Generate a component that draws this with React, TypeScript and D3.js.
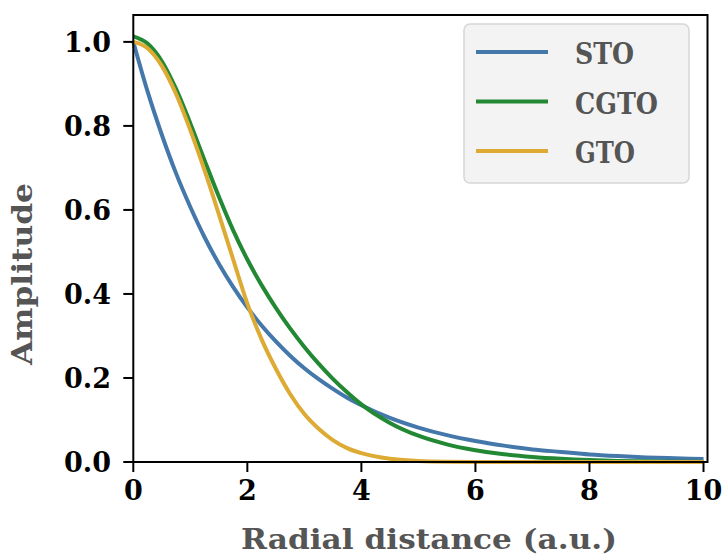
import React from "react";
import * as d3 from "d3";

const radius = [0, 0.25, 0.5, 0.75, 1, 1.25, 1.5, 1.75, 2, 2.25, 2.5, 2.75, 3, 3.25, 3.5, 3.75, 4, 4.5, 5, 5.5, 6, 6.5, 7, 7.5, 8, 8.5, 9, 9.5, 10];
const sto = [1.0, 0.882, 0.779, 0.687, 0.607, 0.535, 0.472, 0.417, 0.368, 0.325, 0.287, 0.253, 0.223, 0.197, 0.174, 0.153, 0.135, 0.105, 0.082, 0.064, 0.05, 0.039, 0.03, 0.024, 0.018, 0.014, 0.011, 0.009, 0.007];
const cgto = [1.013, 0.996, 0.954, 0.888, 0.806, 0.718, 0.632, 0.552, 0.482, 0.421, 0.367, 0.318, 0.274, 0.234, 0.198, 0.166, 0.137, 0.093, 0.0625, 0.042, 0.028, 0.0182, 0.0118, 0.0075, 0.0045, 0.0026, 0.0015, 0.0008, 0.0004];
const gto = [1.0, 0.985, 0.943, 0.876, 0.79, 0.694, 0.59, 0.483, 0.377, 0.292, 0.222, 0.162, 0.114, 0.079, 0.052, 0.033, 0.021, 0.0075, 0.0025, 0.0007, 0.0002, 0, 0, 0, 0, 0, 0, 0, 0];

const seriesNames = ["STO", "CGTO", "GTO"];
const seriesColors = ["#4477AA", "#228833", "#DDAA33"];
const xTicks = [0, 2, 4, 6, 8, 10];
const yTicks = [0, 0.2, 0.4, 0.6, 0.8, 1.0];

const W = 723;
const H = 559;
const left = 133.3;
const right = 707.5;
const top = 15;
const bottom = 462;

export default function App() {
  const x = d3.scaleLinear().domain([0, 10.07]).range([left, right]);
  const y = d3.scaleLinear().domain([0, 1.064]).range([bottom, top]);
  const line = d3
    .line<number>()
    .x((_, i) => x(radius[i]))
    .y((d) => y(d))
    .curve(d3.curveMonotoneX);
  const data = [sto, cgto, gto];
  const tickFont = "'DejaVu Serif', serif";
  const labelFont = "'DejaVu Serif', serif";
  const legendTextLen = [59, 83, 60];
  return (
    <div style={{ position: "fixed", left: 0, top: 0 }}>
      <svg width={W} height={H} style={{ display: "block", background: "#fff" }}>
        {data.map((d, i) => (
          <path key={i} d={line(d) || ""} fill="none" stroke={seriesColors[i]} strokeWidth={4} strokeLinejoin="round" />
        ))}
        <rect x={left} y={top} width={right - left} height={bottom - top} fill="none" stroke="#000" strokeWidth={2} />
        {xTicks.map((t) => (
          <g key={"x" + t}>
            <line x1={x(t)} x2={x(t)} y1={bottom} y2={bottom + 10} stroke="#000" strokeWidth={2} />
            <text x={x(t)} y={500} textAnchor="middle" fontFamily={tickFont} fontWeight="bold" fontSize={27} fill="#000">
              {t}
            </text>
          </g>
        ))}
        {yTicks.map((t) => (
          <g key={"y" + t}>
            <line x1={left - 10} x2={left} y1={y(t)} y2={y(t)} stroke="#000" strokeWidth={2} />
            <text x={111} y={y(t)} dy="0.365em" textAnchor="end" fontFamily={tickFont} fontWeight="bold" fontSize={27} fill="#000">
              {t.toFixed(1)}
            </text>
          </g>
        ))}
        <text x={241} y={549} textLength={376} lengthAdjust="spacingAndGlyphs" fontFamily={labelFont} fontWeight="bold" fontSize={28} fill="#555">
          Radial distance (a.u.)
        </text>
        <text
          transform="translate(32,274) rotate(-90)"
          textAnchor="middle"
          textLength={182}
          lengthAdjust="spacingAndGlyphs"
          fontFamily={labelFont}
          fontWeight="bold"
          fontSize={28}
          fill="#555"
        >
          Amplitude
        </text>
        <g>
          <rect x={464} y={24} width={225} height={159} rx={6} ry={6} fill="#f3f3f3" stroke="#d6d6d6" strokeWidth={1.5} />
          {seriesNames.map((n, i) => (
            <g key={n}>
              <line x1={476} x2={548} y1={52 + i * 49.5} y2={52 + i * 49.5} stroke={seriesColors[i]} strokeWidth={4} />
              <text
                x={575}
                y={64 + i * 49.5}
                textLength={legendTextLen[i]}
                lengthAdjust="spacingAndGlyphs"
                fontFamily={labelFont}
                fontWeight="bold"
                fontSize={29}
                fill="#555"
              >
                {n}
              </text>
            </g>
          ))}
        </g>
      </svg>
    </div>
  );
}
